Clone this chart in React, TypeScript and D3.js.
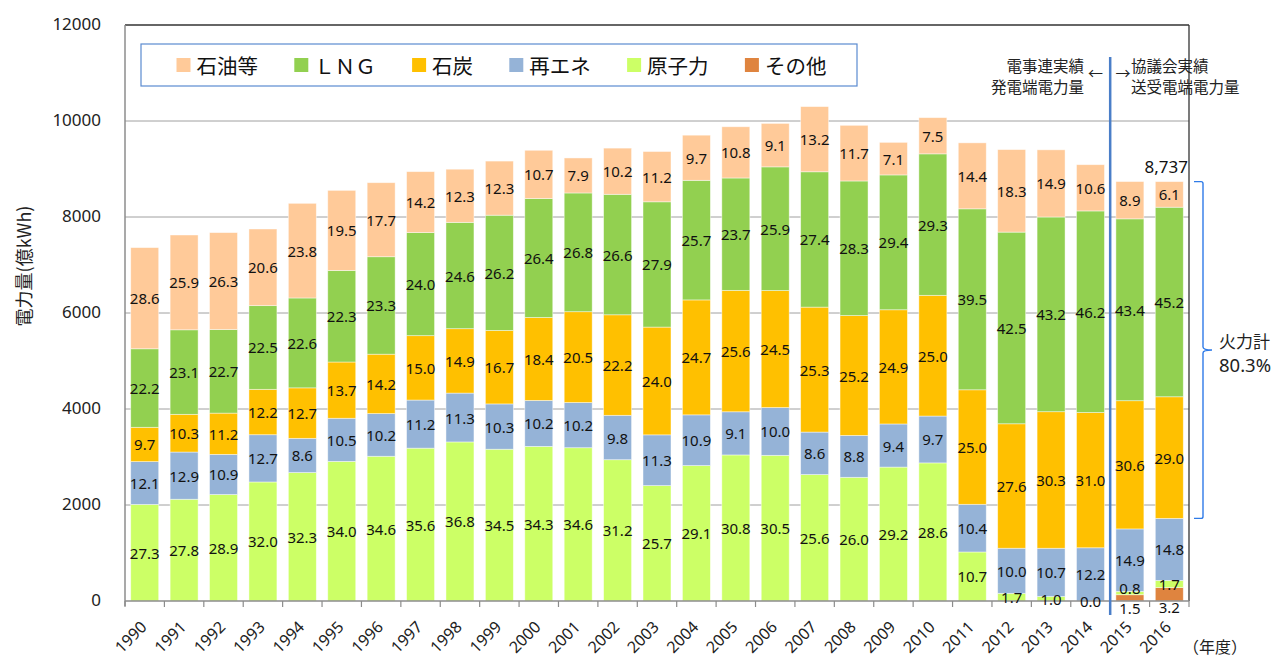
import { format, scaleBand, scaleLinear, stack } from 'd3'

const YEARS = [
  '1990', '1991', '1992', '1993', '1994', '1995', '1996', '1997', '1998', '1999',
  '2000', '2001', '2002', '2003', '2004', '2005', '2006', '2007', '2008', '2009',
  '2010', '2011', '2012', '2013', '2014', '2015', '2016',
]

// total generation (億kWh)
const TOTALS = [
  7370, 7625, 7675, 7750, 8285, 8555, 8715, 8945, 9005, 9165,
  9390, 9230, 9435, 9355, 9695, 9880, 9950, 10290, 9910, 9555,
  10060, 9545, 9395, 9390, 9090, 8730, 8737,
]

// shares (%) printed in the bars
const OTHER = [
  0, 0, 0, 0, 0, 0, 0, 0, 0, 0, 0, 0, 0, 0, 0, 0, 0, 0, 0, 0, 0, 0, 0, 0, 0, 1.5, 3.2,
]
const NUCLEAR = [
  27.3, 27.8, 28.9, 32.0, 32.3, 34.0, 34.6, 35.6, 36.8, 34.5, 34.3, 34.6, 31.2, 25.7,
  29.1, 30.8, 30.5, 25.6, 26.0, 29.2, 28.6, 10.7, 1.7, 1.0, 0.0, 0.8, 1.7,
]
const RENEW = [
  12.1, 12.9, 10.9, 12.7, 8.6, 10.5, 10.2, 11.2, 11.3, 10.3, 10.2, 10.2, 9.8, 11.3,
  10.9, 9.1, 10.0, 8.6, 8.8, 9.4, 9.7, 10.4, 10.0, 10.7, 12.2, 14.9, 14.8,
]
const COAL = [
  9.7, 10.3, 11.2, 12.2, 12.7, 13.7, 14.2, 15.0, 14.9, 16.7, 18.4, 20.5, 22.2, 24.0,
  24.7, 25.6, 24.5, 25.3, 25.2, 24.9, 25.0, 25.0, 27.6, 30.3, 31.0, 30.6, 29.0,
]
const LNG = [
  22.2, 23.1, 22.7, 22.5, 22.6, 22.3, 23.3, 24.0, 24.6, 26.2, 26.4, 26.8, 26.6, 27.9,
  25.7, 23.7, 25.9, 27.4, 28.3, 29.4, 29.3, 39.5, 42.5, 43.2, 46.2, 43.4, 45.2,
]
const OIL = [
  28.6, 25.9, 26.3, 20.6, 23.8, 19.5, 17.7, 14.2, 12.3, 12.3, 10.7, 7.9, 10.2, 11.2,
  9.7, 10.8, 9.1, 13.2, 11.7, 7.1, 7.5, 14.4, 18.3, 14.9, 10.6, 8.9, 6.1,
]

const Y_TICKS = [0, 2000, 4000, 6000, 8000, 10000, 12000]

const SERIES = [
  { key: 'other', name: 'その他', color: '#DF843F', shares: OTHER },
  { key: 'nuclear', name: '原子力', color: '#CCFF66', shares: NUCLEAR },
  { key: 'renew', name: '再エネ', color: '#95B3D7', shares: RENEW },
  { key: 'coal', name: '石炭', color: '#FFC000', shares: COAL },
  { key: 'lng', name: 'ＬＮＧ', color: '#92D050', shares: LNG },
  { key: 'oil', name: '石油等', color: '#FFCA99', shares: OIL },
]

const W = 1277
const H = 657
const LEFT = 125
const RIGHT = 1189
const TOP = 25
const BOTTOM = 601

const JP = "'Noto Sans CJK JP', 'Noto Sans', sans-serif"
const NUM = "'Noto Sans', 'Noto Sans CJK JP', sans-serif"

// small labels at the foot of the last two bars are pushed apart
const NUDGE: Record<string, number> = {
  '2015-other': 10,
  '2015-nuclear': -5,
  '2016-other': 13,
}

type Row = { year: string; [k: string]: number | string }

export default function App() {
  const rows: Row[] = YEARS.map((year, i) => {
    const row: Row = { year }
    SERIES.forEach((s) => {
      row[s.key] = (TOTALS[i] * s.shares[i]) / 100
    })
    return row
  })

  const stacked = stack<Row>().keys(SERIES.map((s) => s.key))(rows)

  const x = scaleBand<string>()
    .domain(YEARS)
    .range([LEFT, RIGHT])
    .paddingInner(0.29)
    .paddingOuter(0.145)
  const y = scaleLinear().domain([0, 12000]).range([BOTTOM, TOP])
  const step = x.step()
  const boundaries = YEARS.map((_, i) => LEFT + i * step).concat(RIGHT)

  const last = YEARS.length - 1
  const lastYear = YEARS[last]
  const splitX = LEFT + YEARS.indexOf('2015') * step

  // thermal bracket for 2016
  const bTop = y(TOTALS[last])
  const nonThermal = (OTHER[last] + NUCLEAR[last] + RENEW[last]) / 100
  const bBot = y(TOTALS[last] * nonThermal)
  const bMid = (bTop + bBot) / 2
  const bx = 1203
  const bracket = `M1194,${bTop} H${bx - 2} Q${bx},${bTop} ${bx},${bTop + 2} V${bMid - 3} Q${bx},${bMid} ${bx + 9},${bMid} M${bx},${bMid + 3} Q${bx},${bMid} ${bx + 9},${bMid} M${bx},${bMid + 3} V${bBot - 2} Q${bx},${bBot} ${bx - 2},${bBot} H1194`

  const legend = [...SERIES].reverse()
  let lx = 176.5
  const legendItems = legend.map((s) => {
    const item = { ...s, x: lx }
    lx += 20 + s.name.length * 20.6 + 36
    return item
  })

  return (
    <svg
      width={W}
      height={H}
      style={{ position: 'absolute', left: 0, top: 0, background: '#fff' }}
    >
      {/* gridlines */}
      {Y_TICKS.filter((t) => t > 0 && t < 12000).map((t) => (
        <line key={t} x1={LEFT} x2={RIGHT} y1={y(t)} y2={y(t)} stroke="#A0A0A0" strokeWidth={1} />
      ))}

      {/* bars */}
      {stacked.map((layer, si) => (
        <g key={layer.key} fill={SERIES[si].color}>
          {layer.map((d, i) => (
            <rect
              key={YEARS[i]}
              x={x(YEARS[i])}
              width={x.bandwidth()}
              y={y(d[1])}
              height={Math.max(0, y(d[0]) - y(d[1]))}
              stroke="#fff"
              strokeOpacity={0.55}
              strokeWidth={0.8}
            />
          ))}
        </g>
      ))}

      {/* frame and axes */}
      <line x1={LEFT} x2={RIGHT} y1={TOP} y2={TOP} stroke="#333" strokeWidth={1.3} />
      <line x1={RIGHT} x2={RIGHT} y1={TOP} y2={BOTTOM} stroke="#333" strokeWidth={1.3} />
      <line x1={LEFT} x2={LEFT} y1={TOP} y2={BOTTOM + 5} stroke="#8C8C8C" strokeWidth={1.5} />
      <line x1={LEFT} x2={RIGHT} y1={BOTTOM} y2={BOTTOM} stroke="#8C8C8C" strokeWidth={1.5} />
      {boundaries.map((bx0, i) => (
        <line key={i} x1={bx0} x2={bx0} y1={BOTTOM} y2={BOTTOM + 6} stroke="#8C8C8C" strokeWidth={1.2} />
      ))}

      {/* segment labels */}
      {stacked.map((layer, si) =>
        layer.map((d, i) => {
          const s = SERIES[si]
          if (s.key === 'other' && s.shares[i] === 0) return null
          const cy = (y(d[0]) + y(d[1])) / 2 + (NUDGE[`${YEARS[i]}-${s.key}`] ?? 0)
          return (
            <text
              key={`${s.key}-${i}`}
              x={(x(YEARS[i]) ?? 0) + x.bandwidth() / 2}
              y={cy}
              textAnchor="middle"
              dominantBaseline="central"
              fontFamily={NUM}
              fontSize={15}
              fill="#111"
            >
              {s.shares[i].toFixed(1)}
            </text>
          )
        }),
      )}

      {/* y ticks */}
      {Y_TICKS.map((t) => (
        <text
          key={t}
          x={101}
          y={y(t) - 2}
          textAnchor="end"
          dominantBaseline="central"
          fontFamily={NUM}
          fontSize={17}
          fill="#222"
        >
          {t}
        </text>
      ))}
      <text
        transform="translate(23,266) rotate(-90)"
        textAnchor="middle"
        dominantBaseline="central"
        fontFamily={JP}
        fontSize={18}
        fill="#222"
      >
        電力量(億kWh)
      </text>

      {/* x ticks */}
      {YEARS.map((yr) => (
        <text
          key={yr}
          transform={`translate(${(x(yr) ?? 0) + x.bandwidth() / 2 + 3},${BOTTOM + 27}) rotate(-45)`}
          textAnchor="end"
          fontFamily={NUM}
          fontSize={16}
          fill="#222"
        >
          {yr}
        </text>
      ))}
      <text x={1183} y={646} dominantBaseline="central" fontFamily={JP} fontSize={16} fill="#222">
        （年度）
      </text>

      {/* legend */}
      <rect x={141} y={44} width={716} height={42} fill="#fff" stroke="#5B8BD0" strokeWidth={1.2} />
      {legendItems.map((s) => (
        <g key={s.key}>
          <rect x={s.x} y={58} width={14} height={14} fill={s.color} />
          <text
            x={s.x + 20}
            y={65}
            dominantBaseline="central"
            fontFamily={JP}
            fontSize={20.5}
            fill="#111"
          >
            {s.name}
          </text>
        </g>
      ))}

      {/* split between data sources */}
      <line x1={splitX} x2={splitX} y1={57} y2={615} stroke="#4A7EC8" strokeWidth={2.5} />
      <text x={1084} y={65} textAnchor="end" dominantBaseline="central" fontFamily={JP} fontSize={15.5} fill="#222">
        電事連実績
      </text>
      <text x={1084} y={86} textAnchor="end" dominantBaseline="central" fontFamily={JP} fontSize={15.5} fill="#222">
        発電端電力量
      </text>
      <text x={1095.5} y={72} textAnchor="middle" dominantBaseline="central" fontFamily={JP} fontSize={15} fill="#222">
        ←
      </text>
      <text x={1123} y={72} textAnchor="middle" dominantBaseline="central" fontFamily={JP} fontSize={15} fill="#222">
        →
      </text>
      <text x={1131} y={65} dominantBaseline="central" fontFamily={JP} fontSize={15.5} fill="#222">
        協議会実績
      </text>
      <text x={1131} y={86} dominantBaseline="central" fontFamily={JP} fontSize={15.5} fill="#222">
        送受電端電力量
      </text>

      {/* total and thermal share */}
      <text
        x={(x(lastYear) ?? 0) + x.bandwidth() / 2 - 3}
        y={bTop - 15}
        textAnchor="middle"
        dominantBaseline="central"
        fontFamily={NUM}
        fontSize={17}
        fill="#111"
      >
        {format(',')(TOTALS[last])}
      </text>
      <path d={bracket} fill="none" stroke="#2F7BE8" strokeWidth={1.4} />
      <text x={1219} y={340} dominantBaseline="central" fontFamily={JP} fontSize={17} fill="#222">
        火力計
      </text>
      <text x={1219} y={364} dominantBaseline="central" fontFamily={NUM} fontSize={18.5} fill="#222">
        {(COAL[last] + LNG[last] + OIL[last]).toFixed(1)}%
      </text>
    </svg>
  )
}
